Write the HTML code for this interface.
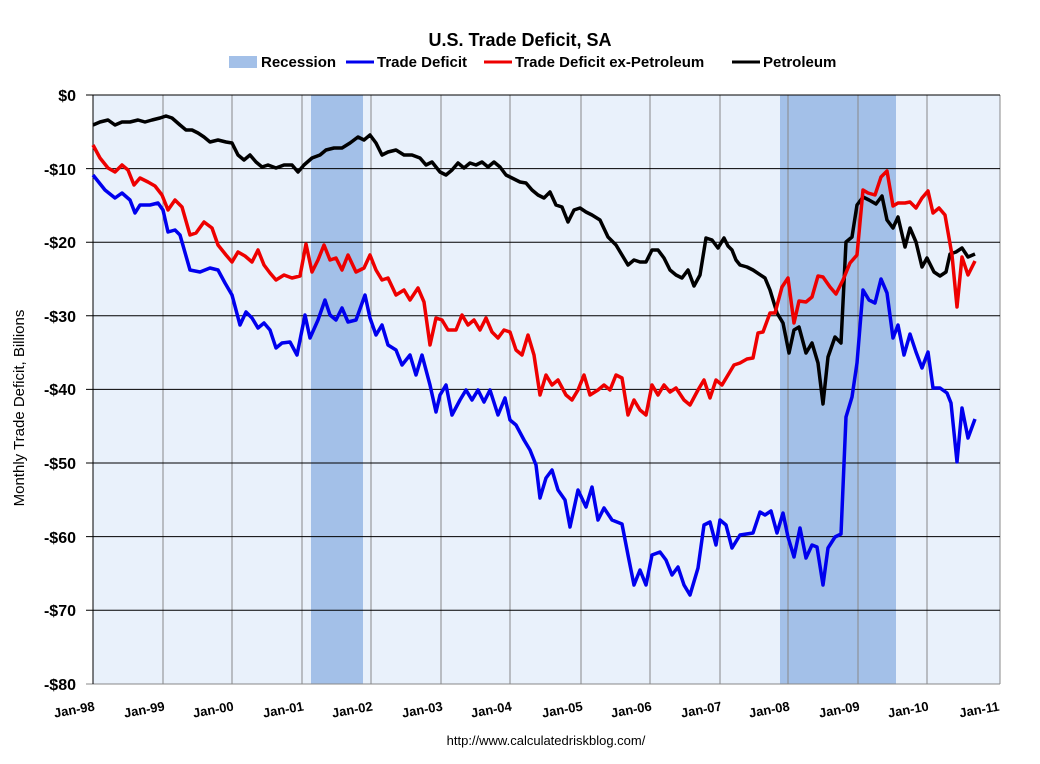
<!DOCTYPE html>
<html><head><meta charset="utf-8"><style>
body{margin:0;background:#fff;}
svg text{font-family:"Liberation Sans",sans-serif;}
</style></head><body>
<svg width="1040" height="759" viewBox="0 0 1040 759" xmlns="http://www.w3.org/2000/svg">
<rect x="0" y="0" width="1040" height="759" fill="#fff"/>
<text x="520" y="46" font-size="18" font-weight="bold" text-anchor="middle" fill="#000">U.S. Trade Deficit, SA</text>
<g font-size="15" font-weight="bold" fill="#000">
<rect x="229" y="56" width="28" height="12" fill="#a3c0e8"/><text x="261" y="67">Recession</text>
<line x1="346" y1="62" x2="374" y2="62" stroke="#0000ee" stroke-width="3"/><text x="377" y="67">Trade Deficit</text>
<line x1="484" y1="62" x2="512" y2="62" stroke="#ee0000" stroke-width="3"/><text x="515" y="67">Trade Deficit ex-Petroleum</text>
<line x1="732" y1="62" x2="760" y2="62" stroke="#000" stroke-width="3"/><text x="763" y="67">Petroleum</text>
</g>
<rect x="93" y="95" width="907" height="589" fill="#e9f1fb"/>
<rect x="311" y="95" width="52" height="589" fill="#a3c0e8"/>
<rect x="780" y="95" width="116" height="589" fill="#a3c0e8"/>
<g stroke="#888" stroke-width="1">
<line x1="163" y1="95" x2="163" y2="684"/><line x1="232" y1="95" x2="232" y2="684"/><line x1="302" y1="95" x2="302" y2="684"/><line x1="371" y1="95" x2="371" y2="684"/><line x1="441" y1="95" x2="441" y2="684"/><line x1="510" y1="95" x2="510" y2="684"/><line x1="581" y1="95" x2="581" y2="684"/><line x1="650" y1="95" x2="650" y2="684"/><line x1="720" y1="95" x2="720" y2="684"/><line x1="788" y1="95" x2="788" y2="684"/><line x1="858" y1="95" x2="858" y2="684"/><line x1="927" y1="95" x2="927" y2="684"/><line x1="1000" y1="95" x2="1000" y2="684"/>
</g>
<g stroke="#000" stroke-width="1">
<line x1="86" y1="95" x2="1000" y2="95"/><line x1="86" y1="168.6" x2="1000" y2="168.6"/><line x1="86" y1="242.2" x2="1000" y2="242.2"/><line x1="86" y1="315.8" x2="1000" y2="315.8"/><line x1="86" y1="389.4" x2="1000" y2="389.4"/><line x1="86" y1="463" x2="1000" y2="463"/><line x1="86" y1="536.6" x2="1000" y2="536.6"/><line x1="86" y1="610.2" x2="1000" y2="610.2"/><line x1="86" y1="684" x2="1000" y2="684" stroke="#888"/>
<line x1="93" y1="95" x2="93" y2="684"/>
</g>
<g font-size="16" font-weight="bold" text-anchor="end" fill="#000">
<text x="76" y="101">$0</text><text x="76" y="175">-$10</text><text x="76" y="248">-$20</text><text x="76" y="322">-$30</text><text x="76" y="395">-$40</text><text x="76" y="469">-$50</text><text x="76" y="543">-$60</text><text x="76" y="616">-$70</text><text x="76" y="690">-$80</text>
</g>
<text transform="translate(24,408) rotate(-90)" font-size="15" text-anchor="middle" fill="#000">Monthly Trade Deficit, Billions</text>
<g font-size="13" font-weight="bold" fill="#000" text-anchor="middle">
<text transform="translate(75,714) rotate(-10)">Jan-98</text><text transform="translate(145,714) rotate(-10)">Jan-99</text><text transform="translate(214,714) rotate(-10)">Jan-00</text><text transform="translate(284,714) rotate(-10)">Jan-01</text><text transform="translate(353,714) rotate(-10)">Jan-02</text><text transform="translate(423,714) rotate(-10)">Jan-03</text><text transform="translate(492,714) rotate(-10)">Jan-04</text><text transform="translate(563,714) rotate(-10)">Jan-05</text><text transform="translate(632,714) rotate(-10)">Jan-06</text><text transform="translate(702,714) rotate(-10)">Jan-07</text><text transform="translate(770,714) rotate(-10)">Jan-08</text><text transform="translate(840,714) rotate(-10)">Jan-09</text><text transform="translate(909,714) rotate(-10)">Jan-10</text><text transform="translate(980,714) rotate(-10)">Jan-11</text>
</g>
<g fill="none" stroke-width="3.5" stroke-linejoin="round">
<polyline stroke="#000" points="93,125 100,122 108,120 115,125 122,122 130,122 138,120 145,122 152,120 160,118 166,116 172,118 180,125 186,130 192,130 198,133 204,137 210,142 218,140 226,142 232,143 238,155 244,160 250,155 256,162 262,167 268,165 276,168 284,165 292,165 298,172 304,165 312,158 320,155 326,150 334,148 342,148 350,143 358,137 364,140 370,135 376,143 382,155 388,152 396,150 404,155 412,155 420,158 426,165 432,162 440,172 446,175 452,170 458,163 464,168 470,163 476,165 482,162 488,167 494,162 500,167 506,175 512,178 520,182 526,183 532,190 538,195 544,198 550,192 556,205 562,207 568,222 574,210 580,208 586,212 592,215 600,220 608,237 616,245 622,255 628,265 634,260 640,262 646,262 652,250 658,250 664,258 670,270 676,275 682,278 688,270 694,286 700,275 706,238 712,240 718,248 724,238 728,246 732,250 736,260 740,265 747,267 753,270 765,278 770,290 777,313 783,323 789,353 794,330 799,327 806,353 812,343 818,363 823,404 828,357 835,337 841,343 846,242 852,237 857,205 863,197 869,200 876,204 882,196 887,220 893,228 898,217 905,247 910,228 916,242 922,267 927,258 934,272 940,276 946,272 950,254 956,252 962,248 968,257 975,254"/>
<polyline stroke="#ee0000" points="93,145 100,158 108,168 115,172 122,165 128,170 134,185 140,178 148,182 155,186 162,195 168,210 175,200 182,207 190,235 196,233 204,222 212,228 218,245 226,255 232,262 238,252 245,256 252,262 258,250 264,265 270,273 276,280 284,275 292,278 300,276 306,244 312,272 318,260 324,245 330,260 336,258 342,270 348,255 356,272 364,268 370,255 376,270 382,280 388,278 396,295 404,290 410,300 418,288 424,302 430,345 436,318 442,320 448,330 456,330 462,315 468,325 474,320 480,330 486,318 492,332 498,338 504,330 510,332 516,350 522,355 528,335 534,355 540,395 546,375 552,385 558,380 566,395 572,400 578,390 584,375 590,395 598,390 604,385 610,390 616,375 622,378 628,415 634,400 640,410 646,415 652,385 658,395 664,385 670,392 676,388 684,400 690,405 698,390 704,380 710,398 716,380 722,385 728,375 734,365 740,363 747,359 753,358 758,333 763,332 770,313 775,313 782,287 788,278 794,323 799,301 806,302 812,297 818,276 823,277 830,287 836,294 843,280 850,263 857,255 863,190 868,193 875,195 881,177 887,171 893,206 898,203 905,203 910,202 916,208 922,198 928,191 933,213 939,208 945,215 952,255 957,307 962,257 968,275 975,261"/>
<polyline stroke="#0000ee" points="93,175 105,190 115,198 122,193 130,200 135,213 140,205 150,205 158,203 163,210 168,232 175,230 180,235 190,270 200,272 210,268 218,270 225,283 232,295 240,325 246,312 252,318 258,328 264,323 270,330 276,348 282,343 290,342 297,355 305,315 310,338 318,320 325,300 330,315 336,320 342,308 348,322 356,320 365,295 370,318 376,335 382,325 388,345 396,350 402,365 410,355 416,375 422,355 430,385 436,412 440,395 446,385 452,415 460,400 466,390 472,400 478,390 484,402 490,390 498,415 505,398 510,420 516,425 524,440 530,450 536,465 540,498 546,478 552,470 558,490 565,500 570,527 578,490 586,507 592,487 598,520 604,508 612,520 622,524 628,555 634,585 640,570 646,585 652,555 660,552 666,560 672,575 678,567 684,585 690,595 698,568 704,525 710,522 716,545 720,520 726,525 732,548 740,535 753,533 760,512 765,515 771,511 777,533 783,513 788,537 794,557 800,528 806,558 812,545 817,547 823,585 828,548 835,537 841,534 846,417 852,397 857,363 863,290 869,300 875,303 881,279 887,293 893,338 898,325 904,355 910,334 916,352 922,368 928,352 933,388 940,388 947,393 951,403 957,462 962,408 968,438 975,419"/>
</g>
<text x="546" y="745" font-size="13" text-anchor="middle" fill="#000">http://www.calculatedriskblog.com/</text>
</svg>
</body></html>
